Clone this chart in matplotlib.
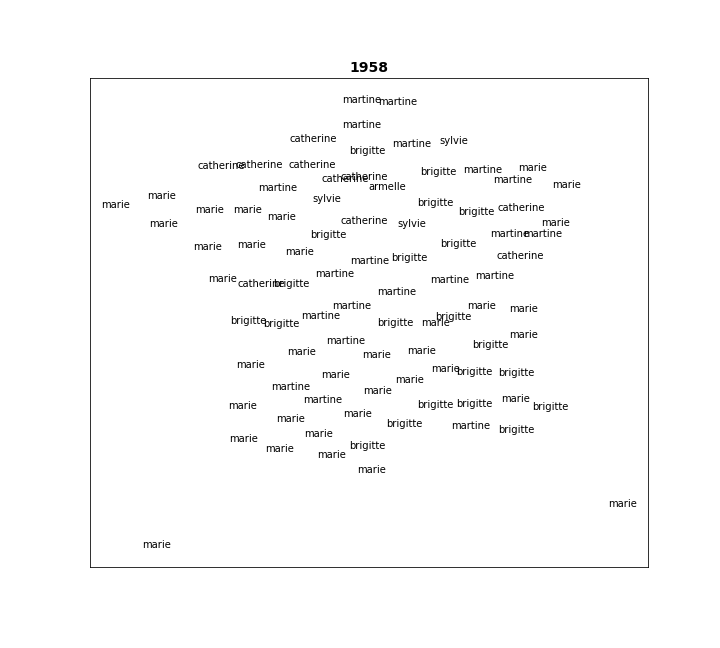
import matplotlib
matplotlib.use("Agg")
import matplotlib.pyplot as plt

names = ["martine","martine","martine","catherine","martine","sylvie","brigitte","catherine","catherine","catherine",
"brigitte","martine","marie","martine","marie","catherine","catherine","armelle","martine","marie",
"marie","sylvie","brigitte","brigitte","catherine","marie","marie","marie","marie","catherine",
"sylvie","marie","brigitte","martine","martine","brigitte","marie","marie","marie","catherine",
"martine","brigitte","martine","martine","marie","catherine","brigitte","martine","martine","martine",
"marie","marie","martine","brigitte","brigitte","brigitte","brigitte","marie","marie","martine",
"brigitte","marie","marie","marie","marie","marie","brigitte","brigitte","marie","marie",
"martine","marie","martine","marie","brigitte","brigitte","brigitte","marie","marie","marie",
"brigitte","martine","brigitte","marie","marie","marie","brigitte","marie","marie","marie","marie"]
xs = [362,398,362,313,412,454,367,221,259,312,
438,483,533,513,567,345,364,387,278,162,
116,327,435,476,521,210,248,282,164,364,
412,556,328,510,543,458,208,252,300,520,
370,409,335,495,223,261,291,450,397,352,
482,524,321,453,248,281,395,436,524,346,
490,302,377,422,251,446,474,516,336,410,
291,378,323,516,435,474,550,243,358,291,
404,471,516,319,244,280,367,332,372,623,157]
ys = [100,102,125,139,144,141,151,166,165,165,
172,170,168,180,185,179,177,187,188,196,
205,199,203,212,208,210,210,217,224,221,
224,223,235,234,234,244,247,245,252,256,
261,258,274,276,279,284,284,280,292,306,
306,309,316,317,321,324,323,323,335,341,
345,352,355,351,365,369,372,373,375,380,
387,391,400,399,405,404,407,406,414,419,
424,426,430,434,439,449,446,455,470,504,545]
title = "1958"

fig = plt.figure(figsize=(10, 9), dpi=72)
ax = fig.add_axes([0.125, 0.125, 0.775, 0.755])
ax.set_xlim(90, 648)
ax.set_ylim(567, 78)
ax.set_xticks([])
ax.set_yticks([])
for name, x, y in zip(names, xs, ys):
    ax.text(x, y, name, ha="center", va="center", fontsize=10, color="black", clip_on=True)
ax.set_title(title, fontsize=14, fontweight="bold")
fig.savefig("out.png", dpi=72)
